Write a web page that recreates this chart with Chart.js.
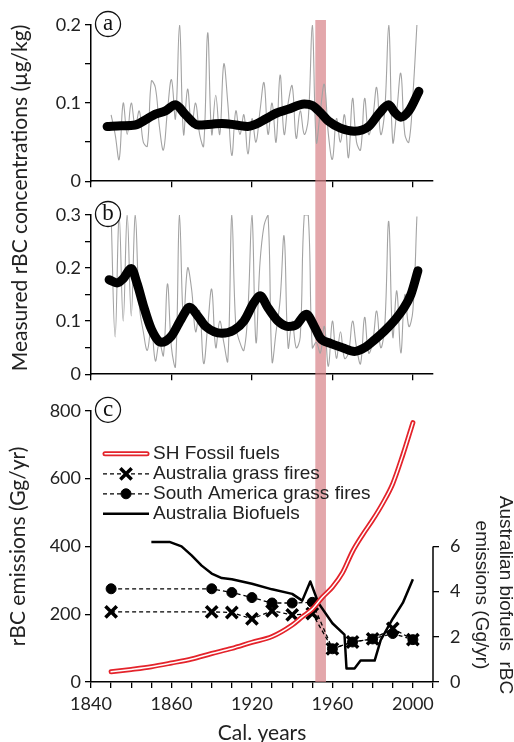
<!DOCTYPE html>
<html>
<head>
<meta charset="utf-8">
<script src="https://cdn.jsdelivr.net/npm/chart.js@4.4.1/dist/chart.umd.min.js"></script>
<style>
    html, body { margin: 0; padding: 0; background: #fff; overflow: hidden; }
    #wrap { position: relative; width: 514px; height: 742px; overflow: hidden; }
    canvas { position: absolute; left: 0; }
    #chartA { top: 0; }
    #chartB { top: 196px; }
    #chartC { top: 389px; }
    #titleAB {
        position: absolute; left: -182px; top: 186px; width: 400px; height: 24px;
        line-height: 24px; text-align: center; transform: rotate(-90deg);
        font: 21px Lato, "Liberation Sans", sans-serif; color: #222;
    }
</style>
</head>
<body>
<div id="wrap">
    <canvas id="chartA" width="514" height="196"></canvas>
    <canvas id="chartB" width="514" height="193"></canvas>
    <canvas id="chartC" width="514" height="361"></canvas>
    <div id="titleAB">Measured rBC concentrations (µg/kg)</div>
</div>
<script>
// ==================== DATA ====================
const xTickValues = [1840, 1880, 1920, 1960, 2000];
const xTickLabels = ['1840', '1860', '1920', '1960', '2000'];
const bandYears = [1951.5, 1956.8];

// raw (grey) records for panels a and b
const rawYears = [1850, 1852, 1854, 1856, 1858, 1860, 1862, 1864, 1866, 1868,
    1870, 1872, 1874, 1876, 1878, 1880, 1882, 1884, 1886, 1888,
    1890, 1892, 1894, 1896, 1898, 1900, 1902, 1904, 1906, 1908,
    1910, 1912, 1914, 1916, 1918, 1920, 1922, 1924, 1926, 1928,
    1930, 1932, 1934, 1936, 1938, 1940, 1942, 1944, 1946, 1948,
    1950, 1952, 1954, 1956, 1958, 1960, 1962, 1964, 1966, 1968,
    1970, 1972, 1974, 1976, 1978, 1980, 1982, 1984, 1986, 1988,
    1990, 1992, 1994, 1996, 1998, 2000, 2002];
const rawA = [0.085, 0.06, 0.028, 0.1, 0.06, 0.1, 0.07, 0.09, 0.05, 0.045,
    0.128, 0.12, 0.07, 0.04, 0.09, 0.13, 0.08, 0.2, 0.06, 0.118,
    0.07, 0.1, 0.06, 0.045, 0.19, 0.06, 0.11, 0.06, 0.15, 0.1,
    0.033, 0.09, 0.06, 0.085, 0.035, 0.08, 0.05, 0.09, 0.126, 0.06,
    0.1, 0.05, 0.136, 0.06, 0.1, 0.122, 0.055, 0.09, 0.06, 0.08,
    0.2, 0.05, 0.09, 0.124, 0.06, 0.028, 0.08, 0.05, 0.085, 0.03,
    0.106, 0.05, 0.04, 0.106, 0.06, 0.08, 0.12, 0.06, 0.09, 0.2,
    0.05, 0.09, 0.138, 0.06, 0.05, 0.11, 0.2];
const rawB = [0.3, 0.07, 0.3, 0.1, 0.3, 0.11, 0.3, 0.13, 0.08, 0.045,
    0.09, 0.025, 0.06, 0.035, 0.17, 0.05, 0.015, 0.3, 0.1, 0.2,
    0.16, 0.08, 0.12, 0.02, 0.09, 0.16, 0.05, 0.1, 0.06, 0.025,
    0.3, 0.09, 0.06, 0.045, 0.12, 0.3, 0.06, 0.21, 0.28, 0.3,
    0.024, 0.08, 0.14, 0.26, 0.05, 0.1, 0.05, 0.07, 0.3, 0.3,
    0.05, 0.06, 0.04, 0.09, 0.015, 0.1, 0.03, 0.08, 0.03, 0.04,
    0.1, 0.05, 0.02, 0.107, 0.04, 0.06, 0.119, 0.05, 0.09, 0.288,
    0.07, 0.157, 0.04, 0.15, 0.09, 0.12, 0.297];

// smoothed (thick) curves
const smoothYearsA = [1848, 1855, 1862, 1868, 1872, 1877, 1882, 1887, 1893, 1900,
    1905, 1912, 1918, 1922, 1927, 1932, 1938, 1946, 1950, 1954,
    1958, 1964, 1971, 1978, 1983, 1988, 1991, 1994, 1998, 2003];
const smoothA = [0.070, 0.071, 0.072, 0.080, 0.086, 0.090, 0.098, 0.085, 0.072, 0.073,
    0.074, 0.072, 0.070, 0.073, 0.080, 0.087, 0.092, 0.099, 0.097, 0.088,
    0.077, 0.068, 0.064, 0.070, 0.086, 0.098, 0.088, 0.082, 0.090, 0.115];
const smoothYearsB = [1849, 1853, 1856, 1860, 1863, 1866, 1870, 1875, 1880, 1885,
    1889, 1893, 1897, 1905, 1911, 1916, 1921, 1924, 1928, 1933,
    1938, 1942, 1947, 1951, 1954, 1959, 1965, 1971, 1976, 1981,
    1986, 1991, 1995, 1999, 2002.5];
const smoothB = [0.178, 0.172, 0.18, 0.199, 0.17, 0.13, 0.085, 0.06, 0.072, 0.105,
    0.126, 0.11, 0.09, 0.077, 0.083, 0.1, 0.135, 0.148, 0.125, 0.1,
    0.09, 0.093, 0.113, 0.09, 0.068, 0.058, 0.05, 0.043, 0.05, 0.065,
    0.082, 0.102, 0.122, 0.15, 0.195];

const yTickValuesA = [0, 0.1, 0.2];
const yTickLabelsA = ['0', '0.1', '0.2'];
const yTickValuesB = [0, 0.1, 0.2, 0.3];
const yTickLabelsB = ['0', '0.1', '0.2', '0.3'];
const yTickValuesC = [0, 200, 400, 600, 800];
const yTickLabelsC = ['0', '200', '400', '600', '800'];
const yTickValuesC2 = [0, 2, 4, 6];
const yTickLabelsC2 = ['0', '2', '4', '6'];

// panel c emissions
const fossilYears = [1850, 1860, 1870, 1880, 1890, 1900, 1910, 1920, 1930, 1940,
    1945, 1950, 1955, 1960, 1965, 1970, 1975, 1980, 1985, 1990, 1995, 2000];
const fossilValues = [30, 37, 45, 56, 68, 84, 99, 117, 134, 168,
    192, 215, 250, 280, 322, 385, 434, 478, 527, 585, 670, 765];
const fireYears = [1850, 1900, 1910, 1920, 1930, 1940, 1950, 1960, 1970, 1980, 1990, 2000];
const ausFireValues = [207, 207, 205, 186, 210, 198, 202, 98, 118, 127, 158, 125];
const saFireValues = [275, 275, 264, 249, 233, 233, 235, 98, 118, 127, 143, 125];
const biofuelYears = [1870, 1879, 1885, 1890, 1895, 1900, 1905, 1910, 1920, 1930,
    1940, 1945, 1949, 1953, 1960, 1966, 1967, 1971, 1974, 1981,
    1984, 1990, 1995, 2000];
const biofuelValues = [6.2, 6.2, 6.0, 5.6, 5.15, 4.8, 4.6, 4.55, 4.35, 4.1,
    3.9, 3.6, 4.45, 3.5, 2.6, 2.1, 0.6, 0.6, 0.95, 0.95,
    1.85, 2.8, 3.5, 4.55];

const legendLabels = ['SH Fossil fuels', 'Australia grass fires', 'South America grass fires', 'Australia Biofuels'];
const rightTitle = ['Australian biofuels  rBC', 'emissions (Gg/yr)'];

// ==================== STYLE ====================
const tickFont = { family: 'Lato, "Liberation Sans", sans-serif', size: 18 };
const titleFont = { family: 'Lato, "Liberation Sans", sans-serif', size: 21 };
const arialFont = '19px "Liberation Sans", Arial, sans-serif';
const red = '#e4232b';
const grey = '#a3a3a3';
const band = 'rgba(215,130,135,0.7)';

// ==================== HELPERS ====================
function pickLabel(values, labels) {
    return function (v) {
        const i = values.findIndex(t => Math.abs(t - v) < 1e-6);
        return i >= 0 ? labels[i] : '';
    };
}

function pairs(xs, ys) {
    return xs.map((x, i) => ({ x: x, y: ys[i] }));
}

function xAxis(withLabels, height) {
    return {
        type: 'linear', min: 1840, max: 2010,
        border: { color: '#000', width: 1.5 },
        grid: { drawOnChartArea: false, tickLength: 6, color: '#000', lineWidth: 1.3 },
        ticks: {
            display: withLabels, stepSize: withLabels ? 10 : 40, includeBounds: false,
            autoSkip: false, maxRotation: 0, padding: 5, color: '#222', font: tickFont,
            callback: pickLabel(xTickValues, xTickLabels)
        },
        afterFit: s => { s.height = height; }
    };
}

function yAxis(max, step, values, labels) {
    return {
        min: 0, max: max,
        border: { color: '#000', width: 1.5 },
        grid: { drawOnChartArea: false, tickLength: 6, color: '#000', lineWidth: 1.3 },
        ticks: {
            stepSize: step, autoSkip: false, padding: 4, color: '#222', font: tickFont,
            callback: pickLabel(values, labels)
        },
        afterFit: s => { s.width = 91; }
    };
}

// pink band for the 1950s
const bandPlugin = {
    id: 'band',
    beforeDatasetsDraw(chart, args, opts) {
        const x = chart.scales.x;
        const left = x.getPixelForValue(bandYears[0]);
        const right = x.getPixelForValue(bandYears[1]);
        const top = opts.top || 0;
        const bottom = opts.toArea ? chart.chartArea.bottom : chart.height;
        const ctx = chart.ctx;
        ctx.save();
        ctx.fillStyle = band;
        ctx.fillRect(left, top, right - left, bottom - top);
        ctx.restore();
    }
};

// circled panel letters
const letterPlugin = {
    id: 'letter',
    afterDraw(chart, args, opts) {
        const ctx = chart.ctx;
        const cx = chart.chartArea.left + 17;
        const cy = chart.chartArea.top - 1;
        ctx.save();
        ctx.fillStyle = '#fff';
        ctx.strokeStyle = '#111';
        ctx.lineWidth = 1.3;
        ctx.beginPath();
        ctx.arc(cx, cy, 12.5, 0, Math.PI * 2);
        ctx.fill();
        ctx.stroke();
        ctx.fillStyle = '#111';
        ctx.font = '23px "Liberation Serif", "DejaVu Serif", serif';
        ctx.textAlign = 'center';
        ctx.textBaseline = 'middle';
        ctx.fillText(opts.text, cx, cy);
        ctx.restore();
    }
};

function commonOptions(padding) {
    return {
        responsive: false, animation: false, events: [],
        layout: { padding: padding },
        plugins: { legend: { display: false }, tooltip: { enabled: false } }
    };
}

// ==================== PANEL A ====================
new Chart(document.getElementById('chartA'), {
    type: 'line',
    data: {
        datasets: [
            { data: pairs(smoothYearsA, smoothA), borderColor: '#000', borderWidth: 9, pointRadius: 0,
              cubicInterpolationMode: 'monotone', borderCapStyle: 'round', borderJoinStyle: 'round' },
            { data: pairs(rawYears, rawA), borderColor: grey, borderWidth: 1.1, pointRadius: 0, tension: 0.4 }
        ]
    },
    options: Object.assign(commonOptions({ top: 25, right: 81, bottom: 0, left: 0 }), {
        scales: {
            x: xAxis(false, 4),
            y: yAxis(0.2, 0.05, yTickValuesA, yTickLabelsA)
        },
        plugins: { legend: { display: false }, tooltip: { enabled: false }, band: { top: 20 }, letter: { text: 'a' } }
    }),
    plugins: [bandPlugin, letterPlugin]
});

// ==================== PANEL B ====================
new Chart(document.getElementById('chartB'), {
    type: 'line',
    data: {
        datasets: [
            { data: pairs(smoothYearsB, smoothB), borderColor: '#000', borderWidth: 9, pointRadius: 0,
              cubicInterpolationMode: 'monotone', borderCapStyle: 'round', borderJoinStyle: 'round' },
            { data: pairs(rawYears, rawB), borderColor: grey, borderWidth: 1.1, pointRadius: 0, tension: 0.4 }
        ]
    },
    options: Object.assign(commonOptions({ top: 19, right: 81, bottom: 0, left: 0 }), {
        scales: {
            x: xAxis(false, 6),
            y: yAxis(0.3, 0.05, yTickValuesB, yTickLabelsB)
        },
        plugins: { legend: { display: false }, tooltip: { enabled: false }, band: { top: 0 }, letter: { text: 'b' } }
    }),
    plugins: [bandPlugin, letterPlugin]
});

// ==================== PANEL C ====================
function drawSample(ctx, i, x0, x1, y) {
    ctx.save();
    if (i === 0) {
        ctx.lineCap = 'round';
        ctx.strokeStyle = red; ctx.lineWidth = 5;
        ctx.beginPath(); ctx.moveTo(x0 + 2, y); ctx.lineTo(x1 - 2, y); ctx.stroke();
        ctx.strokeStyle = '#fff'; ctx.lineWidth = 1.5;
        ctx.beginPath(); ctx.moveTo(x0 + 2, y); ctx.lineTo(x1 - 2, y); ctx.stroke();
    } else if (i === 3) {
        ctx.strokeStyle = '#000'; ctx.lineWidth = 2.5;
        ctx.beginPath(); ctx.moveTo(x0, y); ctx.lineTo(x1, y); ctx.stroke();
    } else {
        ctx.strokeStyle = '#000'; ctx.lineWidth = 1.3;
        ctx.setLineDash([4, 3]);
        ctx.beginPath(); ctx.moveTo(x0, y); ctx.lineTo(x1, y); ctx.stroke();
        ctx.setLineDash([]);
        const mid = (x0 + x1) / 2;
        ctx.fillStyle = '#000';
        if (i === 1) {
            ctx.lineWidth = 3.5;
            Chart.helpers.drawPoint(ctx, { pointStyle: 'crossRot', radius: 8, borderWidth: 3.5 }, mid, y);
        } else {
            ctx.lineWidth = 1;
            Chart.helpers.drawPoint(ctx, { pointStyle: 'circle', radius: 5, borderWidth: 1 }, mid, y);
        }
    }
    ctx.restore();
}

const legendPlugin = {
    id: 'sideLegend',
    afterDraw(chart) {
        const ctx = chart.ctx;
        const a = chart.chartArea;
        const x0 = a.left + 12, x1 = a.left + 58, tx = a.left + 62;
        ctx.save();
        ctx.font = arialFont;
        ctx.textBaseline = 'middle';
        legendLabels.forEach((label, i) => {
            const y = a.top + 43 + i * 20;
            drawSample(ctx, i, x0, x1, y);
            ctx.fillStyle = '#222';
            ctx.fillText(label, tx, y);
        });
        ctx.restore();
    }
};

// right axis only runs from 0 to 6, with its own two-line title
const rightAxisPlugin = {
    id: 'rightAxis',
    afterDraw(chart) {
        const ctx = chart.ctx;
        const s = chart.scales.y2;
        ctx.save();
        ctx.strokeStyle = '#000';
        ctx.lineWidth = 1.5;
        ctx.beginPath();
        ctx.moveTo(s.left, s.getPixelForValue(0));
        ctx.lineTo(s.left, s.getPixelForValue(6));
        ctx.stroke();
        ctx.font = arialFont;
        ctx.fillStyle = '#222';
        ctx.textAlign = 'center';
        ctx.textBaseline = 'middle';
        const cy = s.getPixelForValue(3.85);
        [505, 481].forEach((x, i) => {
            ctx.save();
            ctx.translate(x, cy);
            ctx.rotate(Math.PI / 2);
            ctx.fillText(rightTitle[i], 0, 0);
            ctx.restore();
        });
        ctx.restore();
    }
};

const hideAbove6 = c => (c.tick && c.tick.value > 6 ? 'rgba(0,0,0,0)' : '#000');

const xC = xAxis(true, 68);
xC.title = { display: true, text: 'Cal. years', font: titleFont, color: '#222', padding: { top: 0, bottom: 4.4 } };
const yC = yAxis(800, 200, yTickValuesC, yTickLabelsC);
yC.title = { display: true, text: 'rBC emissions (Gg/yr)', font: titleFont, color: '#222', padding: { top: 5.4, bottom: 0 } };

new Chart(document.getElementById('chartC'), {
    type: 'line',
    data: {
        datasets: [
            { data: pairs(fossilYears, fossilValues), borderColor: '#fff', borderWidth: 1.5, pointRadius: 0,
              cubicInterpolationMode: 'monotone', borderCapStyle: 'round' },
            { data: pairs(fossilYears, fossilValues), borderColor: red, borderWidth: 5, pointRadius: 0,
              cubicInterpolationMode: 'monotone', borderCapStyle: 'round' },
            { data: pairs(fireYears, ausFireValues), borderColor: '#000', borderWidth: 1.3, borderDash: [4, 3],
              pointStyle: 'crossRot', pointRadius: 8, pointBorderWidth: 3.5, pointBorderColor: '#000', tension: 0 },
            { data: pairs(fireYears, saFireValues), borderColor: '#000', borderWidth: 1.3, borderDash: [4, 3],
              pointStyle: 'circle', pointRadius: 5, pointBorderWidth: 1, pointBackgroundColor: '#000',
              pointBorderColor: '#000', tension: 0 },
            { data: pairs(biofuelYears, biofuelValues), yAxisID: 'y2', borderColor: '#000', borderWidth: 2.5,
              pointRadius: 0, tension: 0, borderJoinStyle: 'round' }
        ]
    },
    options: Object.assign(commonOptions({ top: 19, right: 0, bottom: 0, left: 0 }), {
        scales: {
            x: xC,
            y: yC,
            y2: {
                position: 'right', min: 0, max: 12,
                border: { display: false },
                grid: { drawOnChartArea: false, tickLength: 6, lineWidth: 1.3, color: hideAbove6, tickColor: hideAbove6 },
                ticks: { stepSize: 2, autoSkip: false, padding: 11, color: '#222', font: tickFont,
                         callback: pickLabel(yTickValuesC2, yTickLabelsC2) },
                afterFit: s => { s.width = 81; }
            }
        },
        plugins: { legend: { display: false }, tooltip: { enabled: false }, band: { top: 0, toArea: true }, letter: { text: 'c' } }
    }),
    plugins: [bandPlugin, letterPlugin, legendPlugin, rightAxisPlugin]
});
</script>
</body>
</html>
